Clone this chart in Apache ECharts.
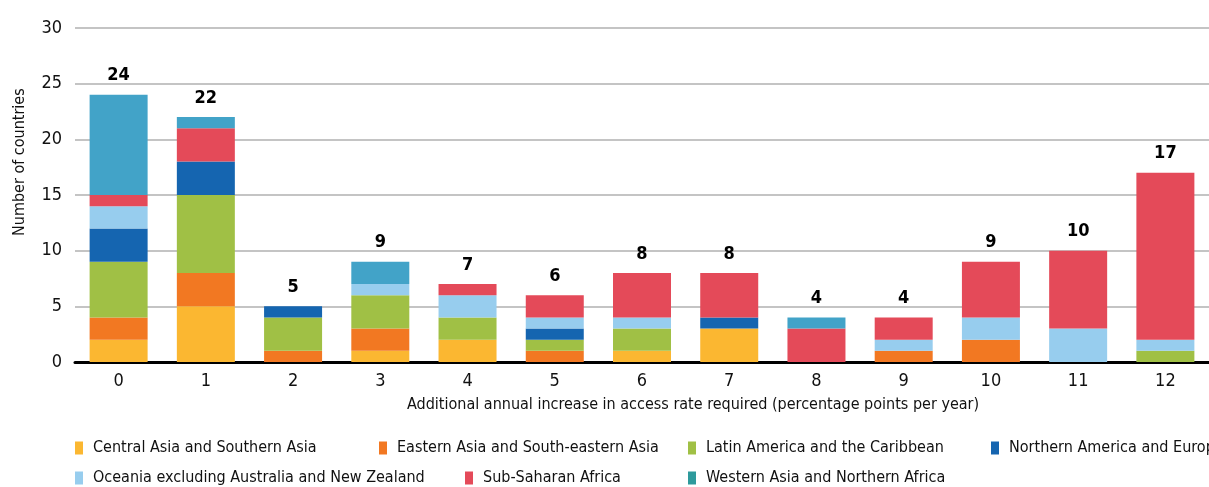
<!DOCTYPE html>
<html>
<head>
<meta charset="utf-8">
<script src="https://cdn.jsdelivr.net/npm/echarts@6/dist/echarts.min.js"></script>
<style>
  html, body { margin: 0; padding: 0; background: #fff; }
  #chart { width: 1209px; height: 487px; }
</style>
</head>
<body>
<div id="chart"></div>
<script>
/* data */
var categories = ['0', '1', '2', '3', '4', '5', '6', '7', '8', '9', '10', '11', '12'];
var regionNames = [
    'Central Asia and Southern Asia',
    'Eastern Asia and South-eastern Asia',
    'Latin America and the Caribbean',
    'Northern America and Europe',
    'Oceania excluding Australia and New Zealand',
    'Sub-Saharan Africa',
    'Western Asia and Northern Africa'
];
var centralSouthAsia = [2, 5, 0, 1, 2, 0, 1, 3, 0, 0, 0, 0, 0];
var eastSouthEastAsia = [2, 3, 1, 2, 0, 1, 0, 0, 0, 1, 2, 0, 0];
var latinAmerica = [5, 7, 3, 3, 2, 1, 2, 0, 0, 0, 0, 0, 1];
var northAmericaEurope = [3, 3, 1, 0, 0, 1, 0, 1, 0, 0, 0, 0, 0];
var oceania = [2, 0, 0, 1, 2, 1, 1, 0, 0, 1, 2, 3, 1];
var subSaharan = [1, 3, 0, 0, 1, 2, 4, 4, 3, 2, 5, 7, 15];
var westAsiaNorthAfrica = [9, 1, 0, 2, 0, 0, 0, 0, 1, 0, 0, 0, 0];
var yTicks = [0, 5, 10, 15, 20, 25, 30];

var seriesData = [centralSouthAsia, eastSouthEastAsia, latinAmerica, northAmericaEurope,
    oceania, subSaharan, westAsiaNorthAfrica];
var barColors = ['#fbb731', '#f27822', '#a0c045', '#1565b0', '#97cdee', '#e44a59', '#42a3c8'];
var legendColors = ['#fbb731', '#f27822', '#a0c045', '#1565b0', '#97cdee', '#e44a59', '#2e9a9c'];
var totals = categories.map(function (c, i) {
    return seriesData.reduce(function (s, arr) { return s + arr[i]; }, 0);
});

var FONT = '"Liberation Sans Narrow", "DejaVu Sans Condensed", "Roboto", sans-serif';

var chart = echarts.init(document.getElementById('chart'));

var series = seriesData.map(function (arr, k) {
    return {
        name: regionNames[k],
        type: 'bar',
        stack: 'total',
        barWidth: 58,
        data: arr,
        itemStyle: { color: barColors[k] },
        emphasis: { disabled: true },
        animation: false
    };
});
/* totals on top */
series.push({
    name: 'total',
    type: 'bar',
    stack: 'total',
    barWidth: 58,
    data: totals.map(function () { return 0; }),
    itemStyle: { color: 'transparent' },
    label: {
        show: true,
        position: 'top',
        distance: 10,
        fontFamily: FONT,
        fontWeight: 'bold',
        fontSize: 18,
        color: '#000',
        formatter: function (p) { return totals[p.dataIndex]; }
    },
    animation: false
});

function legendItem(i) {
    return { name: regionNames[i], itemStyle: { color: legendColors[i] } };
}
var legendBase = {
    icon: 'rect',
    itemWidth: 8,
    itemHeight: 13,
    itemGap: 0,
    orient: 'horizontal',
    textStyle: { fontFamily: FONT, fontSize: 16, color: '#111', padding: [0, 0, 0, 5] },
    selectedMode: false
};
function makeLegend(i, x, y) {
    return Object.assign({}, legendBase, { left: x, top: y, data: [legendItem(i)] });
}

var option = {
    animation: false,
    grid: { left: 75, right: -11, top: 28, bottom: 125, containLabel: false },
    legend: [
        makeLegend(0, 70, 435),
        makeLegend(1, 374, 435),
        makeLegend(2, 683, 435),
        makeLegend(3, 986, 435),
        makeLegend(4, 70, 465),
        makeLegend(5, 460, 465),
        makeLegend(6, 683, 465)
    ],
    xAxis: {
        type: 'category',
        data: categories,
        axisLine: { lineStyle: { color: '#000', width: 3 } },
        axisTick: { show: false },
        axisLabel: { fontFamily: FONT, fontSize: 18, color: '#111', margin: 10 }
    },
    yAxis: {
        type: 'value',
        min: yTicks[0],
        max: yTicks[yTicks.length - 1],
        interval: 5,
        axisLine: { show: false },
        axisTick: { show: false },
        splitLine: { lineStyle: { color: '#c4c4c4', width: 2 } },
        axisLabel: { fontFamily: FONT, fontSize: 18, color: '#111', margin: 13 }
    },
    graphic: [
        {
            type: 'text',
            left: 682 - 275,
            top: 397,
            style: {
                text: 'Additional annual increase in access rate required (percentage points per year)',
                font: '16px ' + FONT,
                fill: '#111'
            }
        },
        {
            type: 'text',
            x: 12,
            y: 236,
            rotation: Math.PI / 2,
            style: {
                text: 'Number of countries',
                font: '16px ' + FONT,
                fill: '#111'
            }
        }
    ],
    series: series
};
chart.setOption(option);
</script>
</body>
</html>
